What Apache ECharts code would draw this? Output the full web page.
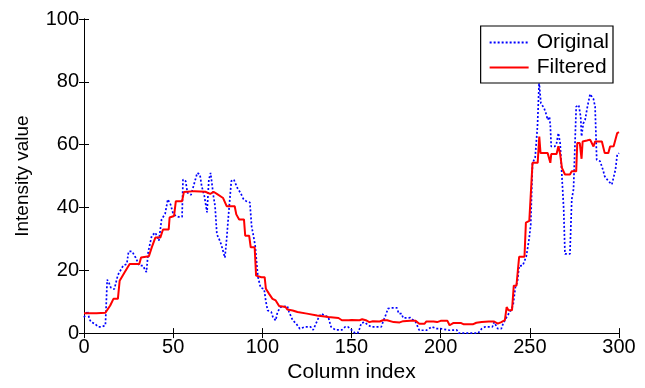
<!DOCTYPE html>
<html>
<head>
<meta charset="utf-8">
<script src="https://cdn.jsdelivr.net/npm/echarts@6/dist/echarts.min.js"></script>
<style>html,body{margin:0;padding:0;background:#fff}#c{width:645px;height:388px}</style>
</head>
<body>
<div id="c"></div>
<script>
// Original (blue dotted) series: column index / intensity
var origX = [0,1,2,3,4,6,8,10,12,13,14,15,17,18,19,20,22,24,25,27,29,31,33,35,36,38,40,42,43.5,45.5,47,48.5,50,51.5,53,55,55.5,57,58,60,61,63.5,65,66,67.5,69,70,71,72,72.6,73.5,74.5,75.5,76.5,77.7,79,80,81,82.6,84,86,87.7,89.5,91,93,94,95,96,97.5,99,101,102,103,105,106,107.5,108.5,110.3,114,115,117,119,121,124,127,128.5,129.5,131.3,133,135,137,138.5,141,144.6,146.5,148,150,152,153.5,154.5,155.5,157.3,159,161,166.7,167.6,169.5,170.4,172,175.5,176.5,177,178,179,183,184,186,188,192,193,195,198,200,201,205,206,209,210,221,223,225,229,230,232,234,235,237,238.7,240.6,242,243,244,246,248,249.6,250.5,251.5,253,254.3,255.2,255.7,256.2,258,259,260,261,261.5,262,264,265,266,267,267.7,269,269.7,272.5,273.5,274.5,276,277.4,278.5,279,280,281,282.3,283.8,285.7,286.6,287.5,289.4,291,292,294,296,297,298,299,300];
var origY = [5,5.5,7,4.5,3.5,3,2,2,2.5,17,16,14.5,14,13.5,18.5,19,21.5,22,26,26,24,21.5,21.5,19.4,25.8,31,32,29.4,36.2,38,42.6,41,38,37.3,37,37,48.9,48.4,44.7,44,44,51,50.5,46.8,43.6,38.4,48.8,51,50.5,43.6,40.4,31.5,31,29,26.7,24,30,37.3,48.4,48.9,46.2,44.7,42.6,42,41.6,34,31,27.8,18,14.5,14,10,7.2,6.7,5,4,6.7,8.3,8.6,6.7,4.1,3,1.4,2,2,1,1,4.6,6.2,5.6,5.1,2,1,1,2,2,1,0,0,1.4,3.2,3.5,2.7,2,2,3.5,6.2,7.8,8,8,6.2,5.6,6.2,4.8,4.9,4.5,3.5,0.9,0.9,1.4,2,1.4,1.4,0.9,0.9,1,1,0,0,1.4,2,2,3.5,1.4,1.4,3,5.1,6.7,8.8,15,16.1,21.4,21.5,24.4,30,34.5,54,56,66,80,79.5,73.2,71.6,70,67.9,68.9,66,59.4,59.4,60.5,63.7,60.5,53.1,39.4,25.2,25.2,42.6,45.8,72.1,72.6,69,62.6,66.8,67.9,72.1,76.1,74.5,72.1,55.2,54.7,52,49.9,48.4,47.3,47.8,52,56.8,57.3];

// Filtered (red solid) series
var filtX = [0,7,7.5,12,13,14.7,16.5,19,20,22.8,25.6,31,32,36.4,38,40,42.8,44.3,47.5,48,50.5,51.5,55,56,62,68,70.8,72.6,74.5,78,80,84.5,85.4,87,89.7,90.4,92.6,93.5,95.7,96.5,99.5,101.3,102,103.8,105.7,107.5,109.4,113,114,117,119.7,125,130.7,137,142.7,144.6,148.4,150,150.7,154.5,156,158,160,162,165.8,167.6,170,173.6,177,179,183,186,188,191,192,196,198,200,203.8,205,206,207,211.5,213,218,220,223,227,230,232,234,236,236.8,237,238,240,241,242.5,244,247,247.8,249.7,250.5,251.5,254.4,255.3,256,260,261,261.5,262,265,266,267,268,269.7,272.5,273.5,276,276.6,278,279,279.6,282,283.8,285.7,286.6,290.4,292,294,295,297,299,300];
var filtY = [6.3,6.3,6.5,6.5,7,8.8,10.9,10.9,16.7,19.4,22,22,24.1,24.5,27.3,30.4,30.4,33,33,36.8,37.3,42,42,44.9,45.2,45,44.3,45,44.3,43,40.4,40.4,37.8,36.2,36.2,31,31,27.3,27.3,18.3,17.8,17.8,14.1,12.5,10.9,10.4,8.6,8.3,7.5,7.2,6.7,6.2,5.6,5.1,4.8,4.1,4.1,4.2,3.7,4.1,4.4,4.1,3.5,3.8,3.7,4.1,4.1,3.5,3.4,3.8,3.9,3.9,3,3,3.7,3.7,3.5,3.9,3.9,2.5,3,3.2,3.2,2.8,2.8,3.3,3.5,3.7,3.7,3,3.5,4.1,4.1,8.3,7.3,7.3,15.1,15.1,24.3,24.3,35.2,35.7,36,54.2,54.2,62.6,57.3,57.3,57,54.2,57,57,59.5,57,52.6,50.5,50.5,51.5,51.5,60.5,60.5,55.5,61,61.3,61.6,59.4,61,61,57.3,57.3,59.4,59.5,63.7,64];

var xTicks = [0,50,100,150,200,250,300];
var yTicks = [0,20,40,60,80,100];

function pairs(xs, ys){ return xs.map(function(x,i){ return [x, ys[i]]; }); }

var font = 'Liberation Sans, Arial, sans-serif';
var chart = echarts.init(document.getElementById('c'), null, {renderer:'canvas'});
var axLine = {show:true, lineStyle:{color:'#000', width:1}};
var axTick = {show:true, inside:true, length:5, lineStyle:{color:'#000'}};
chart.setOption({
  animation:false,
  backgroundColor:'#fff',
  grid:{left:84, right:26, top:19, bottom:54, show:false},
  legend:{
    right:32, top:26, orient:'vertical', itemWidth:39, itemHeight:14, itemGap:4,
    padding:[6,4,5,8], borderColor:'#000', borderWidth:1.2, backgroundColor:'#fff',
    itemStyle:{opacity:0},
    textStyle:{fontFamily:font, fontSize:21, color:'#000', padding:[0,0,0,3]},
    data:['Original','Filtered']
  },
  xAxis:[{
    type:'value', min:xTicks[0], max:xTicks[xTicks.length-1], interval:50,
    name:'Column index', nameLocation:'middle', nameGap:26,
    nameTextStyle:{fontFamily:font, fontSize:21, color:'#000'},
    axisLine:axLine, axisTick:axTick, splitLine:{show:false},
    axisLabel:{fontFamily:font, fontSize:20, color:'#000', margin:4}
  },{
    type:'value', position:'top', min:0, max:300, interval:50,
    axisLine:axLine, axisTick:axTick, splitLine:{show:false}, axisLabel:{show:false}
  }],
  yAxis:[{
    type:'value', min:yTicks[0], max:yTicks[yTicks.length-1], interval:20,
    name:'Intensity value', nameLocation:'middle', nameGap:52,
    nameTextStyle:{fontFamily:font, fontSize:19, color:'#000'},
    axisLine:axLine, axisTick:axTick, splitLine:{show:false},
    axisLabel:{fontFamily:font, fontSize:20, color:'#000', margin:5}
  },{
    type:'value', position:'right', min:0, max:100, interval:20,
    axisLine:axLine, axisTick:axTick, splitLine:{show:false}, axisLabel:{show:false}
  }],
  series:[{
    name:'Original', type:'line', data:pairs(origX, origY), showSymbol:false, symbol:'none',
    color:'#0000ff', lineStyle:{color:'#0000ff', width:1.7, type:[2,2]}, z:2
  },{
    name:'Filtered', type:'line', data:pairs(filtX, filtY), showSymbol:false, symbol:'none',
    color:'#ff0000', lineStyle:{color:'#ff0000', width:2}, z:3
  }]
});
</script>
</body>
</html>
